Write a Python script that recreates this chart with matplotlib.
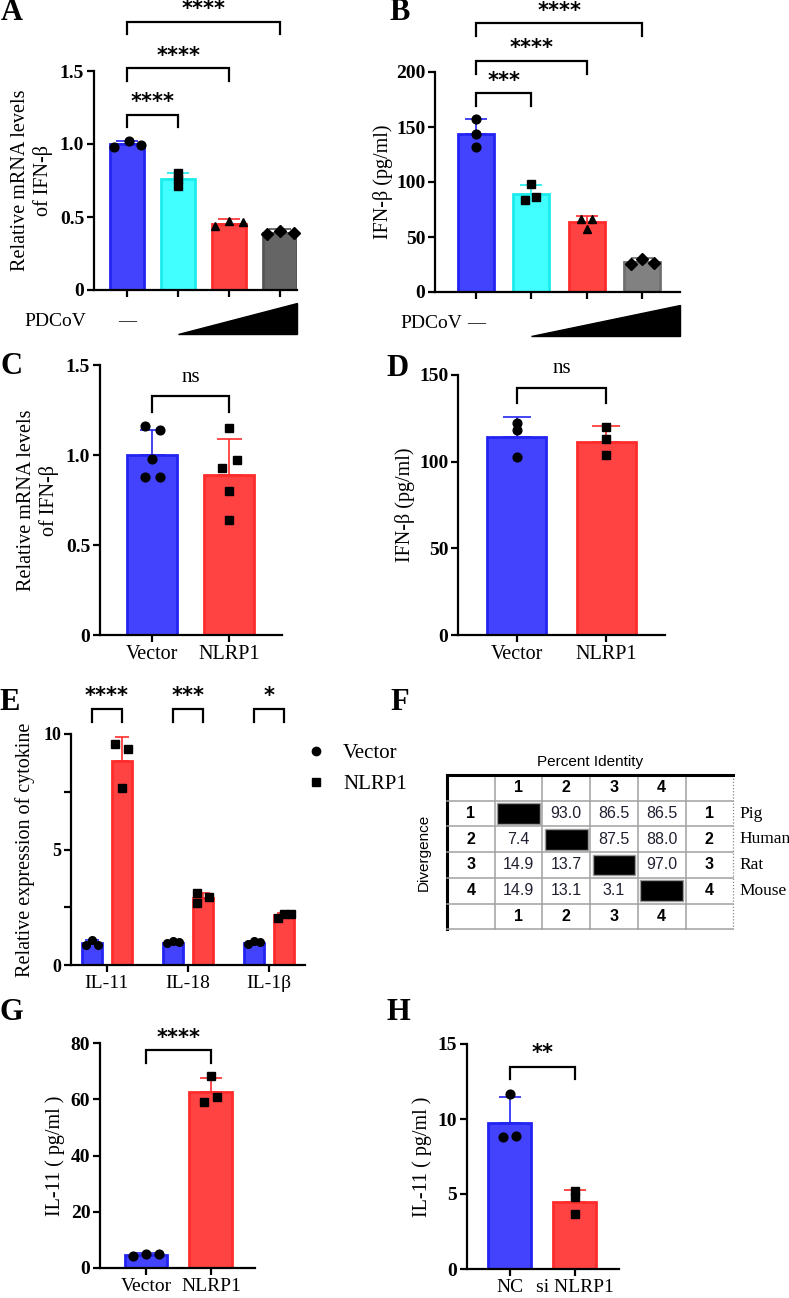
import matplotlib
matplotlib.use("Agg")
import matplotlib.pyplot as plt
import matplotlib.transforms as mtransforms
from matplotlib.patches import Polygon, Rectangle
from matplotlib.lines import Line2D
import numpy as np

# ---------------- data ----------------
# A: relative mRNA of IFN-beta, PDCoV dose
a_means = [1.00, 0.758, 0.452, 0.388]
a_sd = [0.02, 0.046, 0.032, 0.027]
a_points = [[0.98, 1.02, 0.995], [0.80, 0.76, 0.71], [0.44, 0.473, 0.465], [0.383, 0.406, 0.388]]
a_sig = [(0, 1, "****"), (0, 2, "****"), (0, 3, "****")]

# B: IFN-beta pg/ml, PDCoV dose
b_means = [143.4, 89.0, 63.3, 27.0]
b_sd = [13.6, 8.3, 5.7, 3.6]
b_points = [[157.3, 143.4, 131.5], [98.2, 83.6, 86.7], [66.4, 66.4, 57.0], [25.2, 30.3, 26.1]]
b_sig = [(0, 1, "***"), (0, 2, "****"), (0, 3, "****")]

# C: relative mRNA of IFN-beta
c_labels = ["Vector", "NLRP1"]
c_means = [1.00, 0.89]
c_sd = [0.14, 0.20]
c_points = [[1.16, 1.14, 0.98, 0.88, 0.88], [1.15, 0.97, 0.93, 0.80, 0.64]]

# D: IFN-beta pg/ml
d_labels = ["Vector", "NLRP1"]
d_means = [114.0, 111.5]
d_sd = [11.5, 9.2]
d_points = [[122.5, 118.5, 102.5], [120.0, 113.0, 104.0]]

# E: cytokine expression
e_cytokines = ["IL-11", "IL-18", "IL-1β"]
e_vector_means = [0.95, 0.97, 0.97]
e_vector_sd = [0.12, 0.04, 0.08]
e_vector_points = [[0.87, 1.09, 0.87], [0.94, 1.03, 1.01], [0.90, 1.06, 0.99]]
e_nlrp1_means = [8.83, 2.92, 2.15]
e_nlrp1_sd = [1.04, 0.2, 0.1]
e_nlrp1_points = [[9.55, 9.35, 7.65], [3.1, 2.7, 2.95], [2.03, 2.22, 2.2]]
e_sig = ["****", "***", "*"]

# F: percent identity / divergence
f_matrix = [[None, 93.0, 86.5, 86.5],
            [7.4, None, 87.5, 88.0],
            [14.9, 13.7, None, 97.0],
            [14.9, 13.1, 3.1, None]]
f_species = ["Pig", "Human", "Rat", "Mouse"]

# G: IL-11 pg/ml
g_labels = ["Vector", "NLRP1"]
g_means = [4.6, 62.6]
g_sd = [0.6, 5.0]
g_points = [[4.1, 5.0, 5.1], [68.3, 59.0, 60.8]]

# H: IL-11 pg/ml after knockdown
h_labels = ["NC", "si NLRP1"]
h_means = [9.73, 4.47]
h_sd = [1.74, 0.8]
h_points = [[11.7, 8.8, 8.9], [5.2, 4.8, 3.7]]

# ---------------- style ----------------
BLUE = ("#4343fe", "#2424f2")
CYAN = ("#42ffff", "#1cecec")
RED = ("#ff4242", "#ff2c2c")
GREY_A = ("#656565", "#555555")
GREY_B = ("#818181", "#707070")

plt.rcParams["font.family"] = ["Liberation Serif", "DejaVu Serif"]
plt.rcParams["axes.linewidth"] = 1.6
plt.rcParams["xtick.major.width"] = 1.6
plt.rcParams["ytick.major.width"] = 1.6
plt.rcParams["xtick.major.size"] = 5
plt.rcParams["ytick.major.size"] = 5

W, H = 789, 1298
fig = plt.figure(figsize=(W / 100, H / 100), dpi=100)


def px_axes(left, top, right, bottom):
    return fig.add_axes([left / W, 1 - bottom / H, (right - left) / W, (bottom - top) / H])


def style_axes(ax, yticks, ylabel, labelpad=4, tick_fs=14, label_fs=14.5):
    for s in ["top", "right"]:
        ax.spines[s].set_visible(False)
    ax.set_yticks(yticks)
    ax.set_yticklabels([("%.1f" % t) if isinstance(t, float) else str(t) for t in yticks],
                       fontweight="bold", fontsize=tick_fs)
    ax.set_ylim(yticks[0], yticks[-1])
    ax.set_ylabel(ylabel, fontsize=label_fs, labelpad=labelpad)
    ax.tick_params(direction="out", pad=2)


def draw_bars(ax, xs, means, sd, points, colors, markers, jitters, width, capsize, msize=6.3):
    for x, m, s, pts, (fc, ec), mk, jit in zip(xs, means, sd, points, colors, markers, jitters):
        ax.bar(x, m, width, color=fc, edgecolor=ec, linewidth=2, zorder=2)
        ax.errorbar(x, m, yerr=[[0], [s]], color=ec, capsize=capsize, elinewidth=1.2,
                    capthick=1.2, zorder=2.5)
        ax.plot(x + np.array(jit), pts, linestyle="none", marker=mk, color="black",
                markersize=msize, zorder=3, clip_on=False)


def bracket(ax, x1, x2, y, drop, text, fs=15, star=True, gap=9):
    ax.plot([x1, x1, x2, x2], [y - drop, y, y, y - drop], color="black", lw=1.6,
            clip_on=False, solid_joinstyle="miter")
    if star:
        ax.annotate(text, ((x1 + x2) / 2, y), xytext=(0, gap), textcoords="offset points",
                    ha="center", va="center", fontsize=fs, fontweight="bold",
                    family="DejaVu Sans", annotation_clip=False)
    else:
        ax.annotate(text, ((x1 + x2) / 2, y), xytext=(0, gap), textcoords="offset points",
                    ha="center", va="center", fontsize=15, annotation_clip=False)


def pdcov_row(ax, text_x, xend):
    trans = mtransforms.blended_transform_factory(ax.transData, ax.transAxes)
    ax.add_patch(Polygon([[1.0, -0.2], [xend, -0.2], [xend, -0.06]], closed=True,
                         facecolor="black", edgecolor="black", transform=trans, clip_on=False))
    ax.text(0, -0.145, "—", transform=trans, ha="center", va="center", fontsize=13)
    ax.text(text_x, -0.145, "PDCoV", transform=ax.transAxes, ha="right", va="center", fontsize=14)


def panel_label(x, y, s):
    fig.text(x / W, 1 - y / H, s, ha="center", va="center", fontsize=22, fontweight="bold")


# ---------------- A ----------------
axA = px_axes(94, 71, 297, 290)
xs = np.arange(4)
draw_bars(axA, xs, a_means, a_sd, a_points, [BLUE, CYAN, RED, GREY_A], ["o", "s", "^", "D"],
          [[-0.26, 0.03, 0.27], [0, 0, 0], [-0.27, 0, 0.27], [-0.25, 0, 0.27]], 0.67, 8)
axA.set_xlim(-0.65, 3.33)
style_axes(axA, [0, 0.5, 1.0, 1.5], "Relative mRNA levels\nof IFN-β", labelpad=5)
axA.set_xticks(xs)
axA.set_xticklabels([])
for (i, j, t), y in zip(a_sig, [1.20, 1.518, 1.836]):
    bracket(axA, i, j, y, 0.085, t)
pdcov_row(axA, -0.04, 3.33)

# ---------------- B ----------------
axB = px_axes(435, 72, 680, 292)
draw_bars(axB, xs, b_means, b_sd, b_points, [BLUE, CYAN, RED, GREY_B], ["o", "s", "^", "D"],
          [[0, 0, 0], [0, -0.12, 0.09], [-0.11, 0.1, 0], [-0.21, 0, 0.21]], 0.65, 8)
axB.set_xlim(-0.74, 3.68)
style_axes(axB, [0, 50, 100, 150, 200], "IFN-β (pg/ml)", labelpad=2)
axB.set_xticks(xs)
axB.set_xticklabels([])
for (i, j, t), y in zip(b_sig, [180.6, 210.0, 244.5]):
    bracket(axB, i, j, y, 11.5, t)
pdcov_row(axB, 0.11, 3.68)

# ---------------- C ----------------
axC = px_axes(100, 365, 282, 635)
xs2 = np.arange(2)
draw_bars(axC, xs2, c_means, c_sd, c_points, [BLUE, RED], ["o", "s"],
          [[-0.1, 0.1, 0, -0.1, 0.1], [0, 0.1, -0.09, 0, 0]], 0.65, 9)
axC.set_xlim(-0.68, 1.69)
style_axes(axC, [0, 0.5, 1.0, 1.5], "Relative mRNA levels\nof IFN-β", labelpad=5)
axC.set_xticks(xs2)
axC.set_xticklabels(c_labels, fontsize=14.5)
bracket(axC, 0, 1, 1.33, 0.09, "ns", star=False, gap=13)

# ---------------- D ----------------
axD = px_axes(458, 375, 665, 635)
draw_bars(axD, xs2, d_means, d_sd, d_points, [BLUE, RED], ["o", "s"],
          [[0, 0, 0], [0, 0, 0]], 0.66, 10)
axD.set_xlim(-0.66, 1.66)
style_axes(axD, [0, 50, 100, 150], "IFN-β (pg/ml)", labelpad=3)
axD.set_xticks(xs2)
axD.set_xticklabels(d_labels, fontsize=14.5)
bracket(axD, 0, 1, 142.5, 8.5, "ns", star=False, gap=14)

# ---------------- E ----------------
axE = px_axes(71, 734, 305, 965)
xs3 = np.arange(3)
off = 0.185
draw_bars(axE, xs3 - off, e_vector_means, e_vector_sd, e_vector_points, [BLUE] * 3, ["o"] * 3,
          [[-0.075, 0, 0.075]] * 3, 0.25, 5, msize=5.5)
draw_bars(axE, xs3 + off, e_nlrp1_means, e_nlrp1_sd, e_nlrp1_points, [RED] * 3, ["s"] * 3,
          [[-0.085, 0.075, 0], [-0.075, -0.075, 0.075], [-0.075, 0, 0.085]], 0.25, 5, msize=5.5)
axE.set_xlim(-0.44, 2.44)
style_axes(axE, [0, 2.5, 5, 7.5, 10], "Relative expression of cytokine", labelpad=6)
axE.set_yticklabels(["0", "", "5", "", "10"], fontweight="bold", fontsize=13)
axE.set_xticks(xs3)
axE.set_xticklabels(e_cytokines, fontsize=14)
for i, t in enumerate(e_sig):
    bracket(axE, i - off, i + off, 11.1, 0.6, t)
handles = [Line2D([], [], linestyle="none", marker="o", color="black", markersize=6),
           Line2D([], [], linestyle="none", marker="s", color="black", markersize=6)]
axE.legend(handles, ["Vector", "NLRP1"], loc="upper left", bbox_to_anchor=(0.94, 0.995),
           frameon=False, fontsize=15, handletextpad=0.5, labelspacing=0.55, borderaxespad=0,
           handlelength=1.6)

# ---------------- F ----------------
axF = px_axes(400, 735, 789, 945)
axF.set_xlim(400, 789)
axF.set_ylim(945, 735)
axF.axis("off")
tx0, ty0, cw, rh = 447, 775, 47.7, 25.7
n = len(f_species)
ncol, nrow = n + 2, n + 2
for j in range(ncol + 1):
    x = tx0 + j * cw
    if j == 0:
        axF.plot([x, x], [ty0, ty0 + nrow * rh], color="black", lw=2.2)
    elif j == ncol:
        axF.plot([x, x], [ty0, ty0 + nrow * rh], color="#888888", lw=0.9, linestyle=(0, (1, 1.5)))
    else:
        axF.plot([x, x], [ty0, ty0 + nrow * rh], color="#a0a0a0", lw=1.1)
for i in range(nrow + 1):
    y = ty0 + i * rh
    if i == 0:
        axF.plot([tx0, tx0 + ncol * cw], [y, y], color="black", lw=2.2)
    else:
        axF.plot([tx0, tx0 + ncol * cw], [y, y], color="#a0a0a0", lw=1.1)


def cell_center(i, j):
    return tx0 + (j + 0.5) * cw, ty0 + (i + 0.5) * rh


def bold_num(i, j, s):
    x, y = cell_center(i, j)
    axF.text(x, y, s, ha="center", va="center", fontsize=11.5, fontweight="bold",
             family="Liberation Sans")


for k in range(n):
    bold_num(0, k + 1, str(k + 1))
    bold_num(nrow - 1, k + 1, str(k + 1))
    bold_num(k + 1, 0, str(k + 1))
    bold_num(k + 1, ncol - 1, str(k + 1))
    x, y = cell_center(k + 1, ncol - 1)
    axF.text(tx0 + ncol * cw + 6, y, f_species[k], ha="left", va="center", fontsize=12.5)
    for c in range(n):
        v = f_matrix[k][c]
        x, y = cell_center(k + 1, c + 1)
        if v is None:
            axF.add_patch(Rectangle((x - cw / 2 + 2.5, y - rh / 2 + 2.5), cw - 5, rh - 5,
                                    facecolor="black", edgecolor="#9a9a9a", lw=1))
        else:
            axF.text(x, y, "%.1f" % v, ha="center", va="center", fontsize=11.5,
                     family="Liberation Sans", color="#202030")
axF.text(tx0 + 3 * cw, ty0 - 13, "Percent Identity", ha="center", va="center", fontsize=11,
         family="Liberation Sans")
axF.text(424, ty0 + 3 * rh, "Divergence", ha="center", va="center", rotation=90, fontsize=11,
         family="Liberation Sans")

# ---------------- G ----------------
axG = px_axes(100, 1043, 255, 1268)
draw_bars(axG, xs2, g_means, g_sd, g_points, [BLUE, RED], ["o", "s"],
          [[-0.2, 0, 0.2], [0, -0.1, 0.1]], 0.66, 8)
axG.set_xlim(-0.71, 1.68)
style_axes(axG, [0, 20, 40, 60, 80], "IL-11 ( pg/ml )", labelpad=4)
axG.set_xticks(xs2)
axG.set_xticklabels(g_labels, fontsize=14)
bracket(axG, 0, 1, 77.5, 4.5, "****")

# ---------------- H ----------------
axH = px_axes(467, 1044, 619, 1269)
draw_bars(axH, xs2, h_means, h_sd, h_points, [BLUE, RED], ["o", "s"],
          [[0, -0.1, 0.1], [0, 0, 0]], 0.66, 8)
axH.set_xlim(-0.66, 1.68)
style_axes(axH, [0, 5, 10, 15], "IL-11 ( pg/ml )", labelpad=4)
axH.set_xticks(xs2)
axH.set_xticklabels(h_labels, fontsize=14)
bracket(axH, 0, 1, 13.5, 0.85, "**", gap=10)

# ---------------- panel letters ----------------
for x, y, s in [(12, 12, "A"), (400, 12, "B"), (11, 367, "C"), (398, 368, "D"),
                (10, 703, "E"), (400, 703, "F"), (11, 1013, "G"), (398, 1013, "H")]:
    panel_label(x, y, s)

fig.savefig("out.png", dpi=100)
